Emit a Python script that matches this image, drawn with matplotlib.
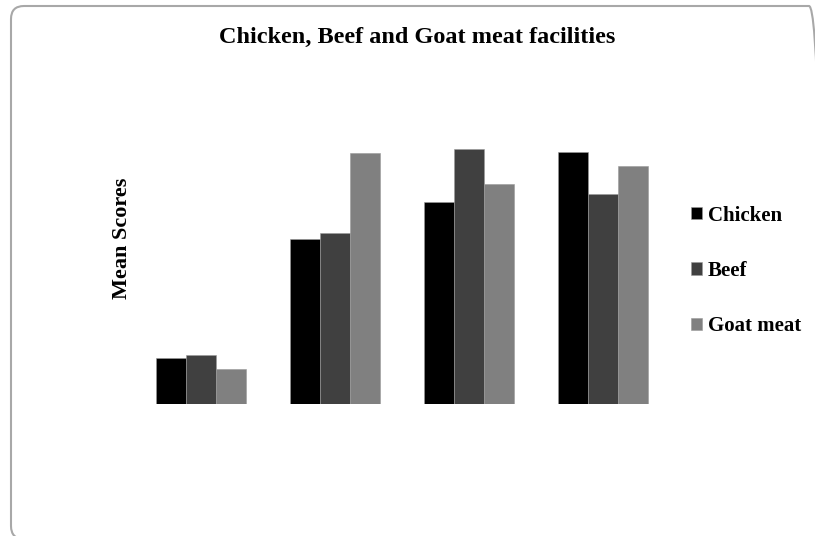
import matplotlib.pyplot as plt
import numpy as np
from matplotlib.patches import FancyBboxPatch
from matplotlib.transforms import IdentityTransform

# mean scores per group
groups = ["1", "2", "3", "4"]
chicken = [0.93, 3.30, 4.05, 5.04]
beef = [0.98, 3.42, 5.10, 4.21]
goat = [0.71, 5.03, 4.40, 4.77]
series = ["Chicken", "Beef", "Goat meat"]
colors = ["#000000", "#404040", "#808080"]

plt.rcParams['font.family'] = ['Liberation Serif', 'DejaVu Serif']

W, H = 815, 536
fig = plt.figure(figsize=(W/100, H/100), dpi=100)

# rounded frame in pixels, runs off the right and bottom edges
frame = FancyBboxPatch((11, -3), 811, H-6+3,
                       boxstyle="round,pad=0,rounding_size=13",
                       transform=IdentityTransform(), fill=False,
                       edgecolor="#a8a8a8", linewidth=1.5)
fig.patches.append(frame)

ax = fig.add_axes([134/W, (H-404)/H, (670.5-134)/W, (404-100)/H])

x = np.arange(len(groups))
w = 30/134
handles = []
for i, (vals, lab, col) in enumerate(zip([chicken, beef, goat], series, colors)):
    b = ax.bar(x + (i-1)*w, vals, w, color=col, label=lab,
               edgecolor="#9a9a9a", linewidth=0.4)
    handles.append(b)

ax.set_xlim(-0.5, 3.5)
ax.set_ylim(0, (404-100)/50)
ax.axis("off")

fig.text(417/W, 1-37/H, "Chicken, Beef and Goat meat facilities",
         ha="center", va="center", fontsize=17.5, fontweight="bold")
fig.text(122/W, 1-238/H, "Mean Scores", rotation=90, ha="center", va="center",
         fontsize=16, fontweight="bold")

leg = fig.legend(handles=handles, labels=series, loc="center left",
                 bbox_to_anchor=(691/W, 1-271/H), frameon=False,
                 prop={"weight": "bold", "size": 15}, borderpad=0,
                 borderaxespad=0,
                 handlelength=0.55, handleheight=0.55, handletextpad=0.25,
                 labelspacing=1.7)

fig.savefig("out.png", dpi=100)
